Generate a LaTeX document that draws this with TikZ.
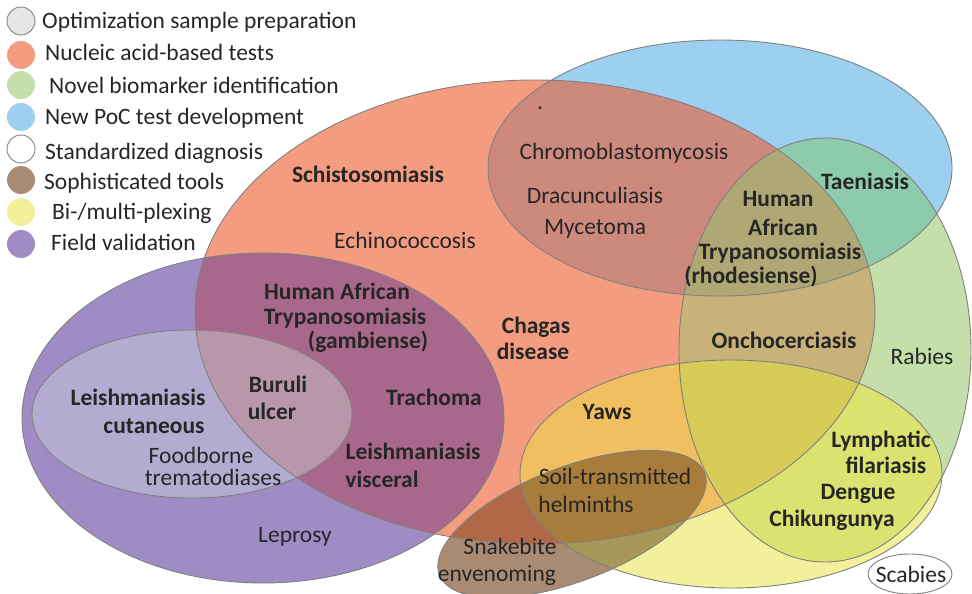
\documentclass[tikz,border=0pt]{standalone}
\usepackage{fontspec}
\setmainfont{Carlito}
\definecolor{cR}{HTML}{F49C80}
\definecolor{cB}{HTML}{9DD0EF}
\definecolor{cG}{HTML}{C4DFA9}
\definecolor{cY}{HTML}{F2F09A}
\definecolor{cP}{HTML}{A08CC4}
\definecolor{cS}{HTML}{A98A72}
\definecolor{cOpt}{HTML}{E6E6E6}
\definecolor{cRB}{HTML}{CD8A7C}
\definecolor{cRG}{HTML}{C8B27A}
\definecolor{cBG}{HTML}{8ECBAC}
\definecolor{cRBG}{HTML}{B0A874}
\definecolor{cRY}{HTML}{F0C060}
\definecolor{cGY}{HTML}{DCE270}
\definecolor{cRGY}{HTML}{D8CC58}
\definecolor{cRP}{HTML}{A8688C}
\definecolor{cPW}{HTML}{B3ACD0}
\definecolor{cRPW}{HTML}{B897AA}
\definecolor{cRS}{HTML}{B06848}
\definecolor{cYS}{HTML}{A89858}
\definecolor{cRYS}{HTML}{A87C3A}
\definecolor{edgegray}{HTML}{808080}
\definecolor{txt}{HTML}{262626}
\newcommand\EllR{(535,312) ellipse [x radius=340pt, y radius=232pt]}
\newcommand\EllB{(720,168) ellipse [x radius=232pt, y radius=128pt]}
\newcommand\EllG{(825,350) ellipse [x radius=146pt, y radius=212pt]}
\newcommand\EllY{(731,474) ellipse [x radius=211pt, y radius=114pt]}
\newcommand\EllP{(263,418) ellipse [x radius=241pt, y radius=165pt]}
\newcommand\EllW{(192,414) ellipse [x radius=160pt, y radius=84pt]}
\newcommand\EllS{(0,0) ellipse [x radius=142pt, y radius=57pt]}
\newcommand\EllC{(910,574) ellipse [x radius=42pt, y radius=20pt]}
\newcommand\AllArea{(0,0) rectangle (972,594)}
\begin{document}
\begin{tikzpicture}[x=1pt,y=-1pt,
  sT/.style={shift={(572,524)},rotate=21},
  edge/.style={draw=edgegray, line width=0.9pt},
  lbl/.style={font=\fontsize{23.5}{25}\selectfont, text=txt, inner sep=0pt, anchor=base},
  blbl/.style={lbl, font=\fontsize{23.5}{25}\selectfont\bfseries},
  legdot/.style={circle, minimum size=28pt, inner sep=0pt},
  legtxt/.style={lbl, anchor=base west}]
\useasboundingbox \AllArea;
% single sets
\fill[cB] \EllB;
\fill[cR] \EllR;
\fill[cG] \EllG;
\fill[cY] \EllY;
\fill[cP] \EllP;
\fill[cS,sT] \EllS;
\fill[white] \EllC;
% pairs
\begin{scope}\clip \EllR; \fill[cRB] \EllB; \end{scope}
\begin{scope}\clip \EllR; \fill[cRG] \EllG; \end{scope}
\begin{scope}\clip \EllB; \fill[cBG] \EllG; \end{scope}
\begin{scope}\clip \EllR; \fill[cRY] \EllY; \end{scope}
\begin{scope}\clip \EllG; \fill[cGY] \EllY; \end{scope}
\begin{scope}\clip \EllR; \fill[cRP] \EllP; \end{scope}
\begin{scope}\clip \EllP; \fill[cPW] \EllW; \end{scope}
\begin{scope}\clip[sT] \EllS; \fill[cRS] \EllR; \end{scope}
\begin{scope}\clip[sT] \EllS; \fill[cYS] \EllY; \end{scope}
% triples
\begin{scope}\clip \EllR; \clip \EllB; \fill[cRBG] \EllG; \end{scope}
\begin{scope}\clip \EllR; \clip \EllG; \fill[cRGY] \EllY; \end{scope}
\begin{scope}\clip \EllR; \clip \EllP; \fill[cRPW] \EllW; \end{scope}
\begin{scope}\clip \EllR; \clip \EllY; \clip[sT] \EllS; \fill[cRYS] \AllArea; \end{scope}
% outlines
\draw[edge] \EllB;
\draw[edge] \EllR;
\draw[edge] \EllG;
\draw[edge] \EllY;
\draw[edge] \EllP;
\draw[edge] \EllW;
\draw[edge,sT] \EllS;
\draw[edge] \EllC;
% labels
\node[blbl] (schisto) at (368,182) {Schistosomiasis};
\node[lbl] (echino) at (405,248) {Echinococcosis};
\node[lbl] (dot) at (540,110) {.};
\node[lbl] (chromo) at (624,159) {Chromoblastomycosis};
\node[lbl] (dracun) at (595,203) {Dracunculiasis};
\node[lbl] (myce) at (595,234) {Mycetoma};
\node[blbl] (hatg1) at (337,299) {Human African};
\node[blbl] (hatg2) at (345,324) {Trypanosomiasis};
\node[blbl] (hatg3) at (368,348) {(gambiense)};
\node[blbl] (chagas1) at (536,333) {Chagas};
\node[blbl] (chagas2) at (533,359) {disease};
\node[blbl] (buruli1) at (278,392) {Buruli};
\node[blbl] (buruli2) at (272,419) {ulcer};
\node[blbl] (leishc1) at (138,405) {Leishmaniasis};
\node[blbl] (leishc2) at (154,433) {cutaneous};
\node[blbl] (trach) at (434,405) {Trachoma};
\node[blbl] (leishv1) at (413,459) {Leishmaniasis};
\node[blbl] (leishv2) at (382,487) {visceral};
\node[lbl] (food1) at (201,463) {Foodborne};
\node[lbl] (food2) at (213,485) {trematodiases};
\node[lbl] (lepro) at (295,542) {Leprosy};
\node[blbl] (hatr1) at (778,206) {Human};
\node[blbl] (hatr2) at (783,235) {African};
\node[blbl] (hatr3) at (780,259) {Trypanosomiasis};
\node[blbl] (hatr4) at (751,283) {(rhodesiense)};
\node[blbl] (taen) at (865,189) {Taeniasis};
\node[blbl] (oncho) at (784,348) {Onchocerciasis};
\node[lbl] (rabies) at (922,364) {Rabies};
\node[blbl] (yaws) at (607,419) {Yaws};
\node[blbl] (lymph1) at (881,447) {Lymphatic};
\node[blbl] (lymph2) at (886,473) {filariasis};
\node[blbl] (dengue) at (858,499) {Dengue};
\node[blbl] (chik) at (832,526) {Chikungunya};
\node[lbl] (soil1) at (615,484) {Soil-transmitted};
\node[lbl] (soil2) at (586,512) {helminths};
\node[lbl] (snake1) at (510,554) {Snakebite};
\node[lbl] (snake2) at (497,581) {envenoming};
\node[lbl] (scab) at (911,582) {Scabies};
% legend
\node[legdot, fill=cOpt, draw=edgegray, line width=0.9pt] (d1) at (21,21) {};
\node[legdot, fill=cR] (d2) at (21,55) {};
\node[legdot, fill=cG] (d3) at (21,85) {};
\node[legdot, fill=cB] (d4) at (21,117) {};
\node[legdot, fill=white, draw=edgegray, line width=0.9pt] (d5) at (21,149) {};
\node[legdot, fill=cS] (d6) at (21,180) {};
\node[legdot, fill=cY] (d7) at (21,212) {};
\node[legdot, fill=cP] (d8) at (21,244) {};
\node[legtxt] (t1) at (42,29) {Optimization sample preparation};
\node[legtxt] (t2) at (45,61) {Nucleic acid-based tests};
\node[legtxt] (t3) at (49,93) {Novel biomarker identification};
\node[legtxt] (t4) at (45,124) {New PoC test development};
\node[legtxt] (t5) at (45,159) {Standardized diagnosis};
\node[legtxt] (t6) at (44,189) {Sophisticated tools};
\node[legtxt] (t7) at (52,219) {Bi-/multi-plexing};
\node[legtxt] (t8) at (51,250) {Field validation};
\end{tikzpicture}
\end{document}
